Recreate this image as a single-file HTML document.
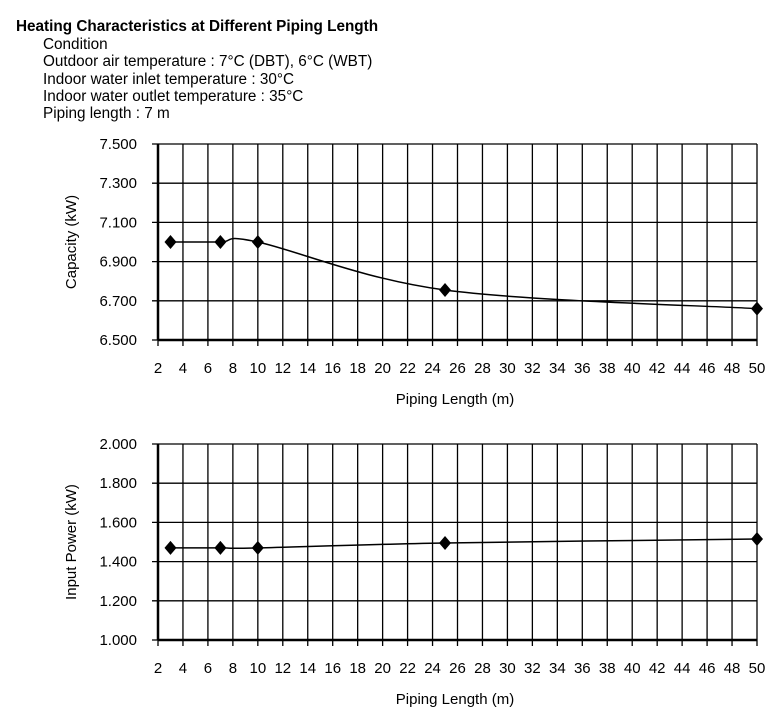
<!DOCTYPE html>
<html><head><meta charset="utf-8"><style>
body{margin:0;background:#fff;}
svg{display:block;font-family:"Liberation Sans",Arial,sans-serif;}
</style></head><body>
<svg id="s" width="773" height="717" viewBox="0 0 773 717">
<g font-size="15.3" fill="#000">
<text x="16" y="31" font-weight="bold">Heating Characteristics at Different Piping Length</text>
<text x="43" y="49">Condition</text>
<text x="43" y="66">Outdoor air temperature : 7°C (DBT), 6°C (WBT)</text>
<text x="43" y="84">Indoor water inlet temperature : 30°C</text>
<text x="43" y="101">Indoor water outlet temperature : 35°C</text>
<text x="43" y="118">Piping length : 7 m</text>
</g>
</svg>
<script>
const xValues=[3,7,10,25,50];
const capacityValues=[7.0,7.0,7.0,6.755,6.66];
const inputPowerValues=[1.47,1.47,1.47,1.495,1.515];
const xTicks=[2,4,6,8,10,12,14,16,18,20,22,24,26,28,30,32,34,36,38,40,42,44,46,48,50];
const capTicks=["6.500","6.700","6.900","7.100","7.300","7.500"];
const powTicks=["1.000","1.200","1.400","1.600","1.800","2.000"];

const NS="http://www.w3.org/2000/svg";
const svg=document.getElementById('s');
function mk(tag,attrs,parent){const e=document.createElementNS(NS,tag);for(const k in attrs)e.setAttribute(k,attrs[k]);parent.appendChild(e);return e;}

function chart(name,top,bottom,yMin,yMax,yTicks,values,yTitle){
  const L=158,R=757;
  const g=mk('g',{},svg);
  
  
  const xs=v=>L+(v-2)/48*(R-L);
  const ys=v=>bottom-(v-yMin)/(yMax-yMin)*(bottom-top);
  yTicks.forEach(t=>{
    const y=ys(parseFloat(t));
    const ln=mk('line',{x1:L-6,x2:R,y1:y,y2:y,stroke:'#000','stroke-width':1.3},g);
    
    
    const tx=mk('text',{x:137,y:y+5,'text-anchor':'end','font-size':15},g);
    tx.textContent=t;
    
    
  });
  xTicks.forEach(t=>{
    const x=xs(t);
    const ln=mk('line',{x1:x,x2:x,y1:top,y2:bottom+6,stroke:'#000','stroke-width':1.3},g);
    
    
    const tx=mk('text',{x:x,y:bottom+33,'text-anchor':'middle','font-size':15},g);
    tx.textContent=t;
    
    
  });
  const ax=mk('line',{x1:L,x2:L,y1:top,y2:bottom,stroke:'#000','stroke-width':2.5},g);
  
  
  const bx=mk('line',{x1:L,x2:R,y1:bottom,y2:bottom,stroke:'#000','stroke-width':2.5},g);
  
  
  const P=xValues.map((v,i)=>[xs(v),ys(values[i])]);
  let d='M'+P[0][0]+','+P[0][1];
  for(let i=0;i<P.length-1;i++){
    const p0=P[i-1]||P[i],p1=P[i],p2=P[i+1],p3=P[i+2]||P[i+1];
    const t=1/6;
    d+=' C'+(p1[0]+(p2[0]-p0[0])*t)+','+(p1[1]+(p2[1]-p0[1])*t)+' '+(p2[0]-(p3[0]-p1[0])*t)+','+(p2[1]-(p3[1]-p1[1])*t)+' '+p2[0]+','+p2[1];
  }
  const path=mk('path',{d:d,fill:'none',stroke:'#000','stroke-width':1.5},g);
  
  
  P.forEach(p=>{
    const m=mk('polygon',{points:`${p[0]},${p[1]-7} ${p[0]+6},${p[1]} ${p[0]},${p[1]+7} ${p[0]-6},${p[1]}`,fill:'#000'},g);
    
    
  });
  const yt=mk('text',{x:0,y:0,'text-anchor':'middle','font-size':15,transform:`translate(76,${(top+bottom)/2}) rotate(-90)`},g);
  yt.textContent=yTitle;
  
  
  const xt=mk('text',{x:455,y:bottom+64,'text-anchor':'middle','font-size':15},g);
  xt.textContent='Piping Length (m)';
  
  
}
chart('capacity-chart',144,340,6.5,7.5,capTicks,capacityValues,'Capacity (kW)');
chart('input-power-chart',444,640,1.0,2.0,powTicks,inputPowerValues,'Input Power (kW)');
</script>
</body></html>
